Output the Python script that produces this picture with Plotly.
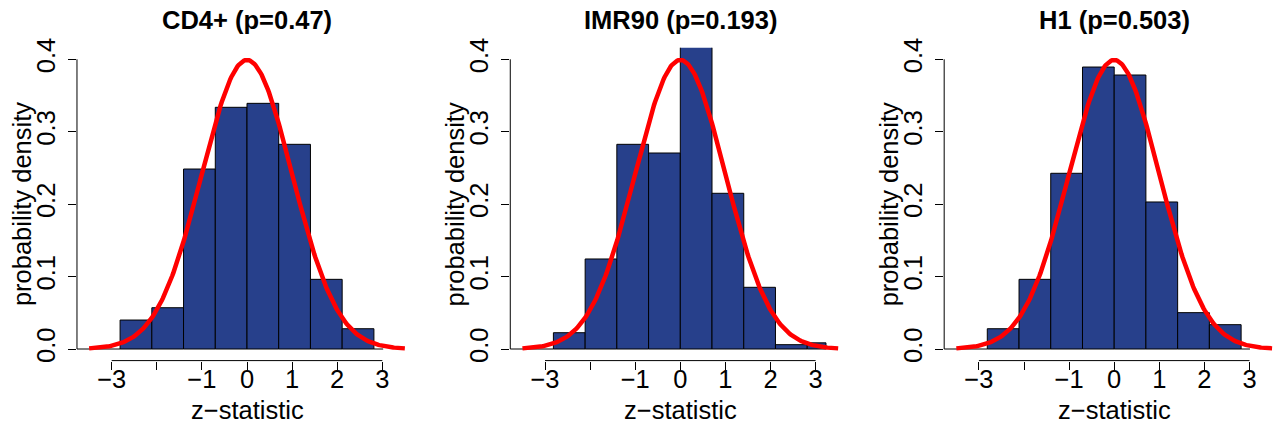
import numpy as np
import plotly.graph_objects as go

# ---- data -------------------------------------------------------------
titles = ["CD4+ (p=0.47)", "IMR90 (p=0.193)", "H1 (p=0.503)"]

# histogram bin edges (z-statistic)
edges_main = [-2.814, -2.11, -1.407, -0.703, 0.0, 0.703, 1.407, 2.11, 2.814]
edges_imr90 = [-2.814, -2.11, -1.407, -0.703, 0.0, 0.703, 1.407, 2.11, 2.814, 3.23]

# probability densities per bin
dens_cd4 = [0.040, 0.057, 0.2485, 0.3337, 0.3392, 0.2826, 0.0962, 0.028]
dens_imr90 = [0.0225, 0.1243, 0.2826, 0.2706, 0.420, 0.215, 0.0852, 0.006, 0.0085]
dens_h1 = [0.028, 0.0962, 0.2426, 0.3893, 0.3783, 0.203, 0.0502, 0.0336]

# empty bins at the tails (drawn as flat outlines)
empty_cd4 = [(-4.2, -2.814), (2.814, 3.02)]
empty_imr90 = [(-4.2, -2.814)]
empty_h1 = [(-4.2, -2.814), (2.814, 3.01)]

x_ticks = [-3, -2, -1, 0, 1, 2, 3]
x_ticktext = ["\u22123", "", "\u22121", "0", "1", "2", "3"]
y_ticks = [0.0, 0.1, 0.2, 0.3, 0.4]
y_ticktext = ["0.0", "0.1", "0.2", "0.3", "0.4"]

panels = [
    (edges_main, dens_cd4, empty_cd4),
    (edges_imr90, dens_imr90, empty_imr90),
    (edges_main, dens_h1, empty_h1),
]

# ---- layout geometry (pixels) -----------------------------------------
W, H = 1274, 426
zero_px = [247.0, 680.3, 1114.2]   # pixel column of z = 0 in each panel
px_per_unit = 45.1
half_range = 3.77
y_top_px, y_bot_px = 47.7, 360.6

FONT = "Liberation Sans, Arial, Helvetica, sans-serif"
FS = 25.5
BAR_FILL = "#27408B"

fig = go.Figure()
annotations = []
shapes = []

for i, (edges, dens, empties) in enumerate(panels):
    n = i + 1
    xa = "x" if n == 1 else f"x{n}"
    ya = "y" if n == 1 else f"y{n}"
    e = np.array(edges)
    centers = (e[:-1] + e[1:]) / 2
    widths = np.diff(e)

    fig.add_trace(go.Bar(
        x=centers, y=dens, width=widths,
        marker=dict(color=BAR_FILL, line=dict(color="black", width=1)),
        xaxis=xa, yaxis=ya, showlegend=False, hoverinfo="skip",
    ))
    for lo, hi in empties:
        fig.add_trace(go.Scatter(
            x=[lo, hi], y=[0, 0], mode="lines",
            line=dict(color="black", width=1),
            xaxis=xa, yaxis=ya, showlegend=False, hoverinfo="skip",
        ))

    # standard normal density overlay
    zz = np.linspace(-3.5, 3.5, 301)
    fig.add_trace(go.Scatter(
        x=zz, y=np.exp(-zz ** 2 / 2) / np.sqrt(2 * np.pi), mode="lines",
        line=dict(color="red", width=4.5),
        xaxis=xa, yaxis=ya, showlegend=False, hoverinfo="skip",
    ))

    left_px = zero_px[i] - half_range * px_per_unit
    right_px = min(zero_px[i] + half_range * px_per_unit, W)
    x_hi = (right_px - zero_px[i]) / px_per_unit

    axis_common = dict(
        showgrid=False, zeroline=False, showline=False,
        ticks="outside", ticklen=8, tickwidth=1, tickcolor="black",
        tickfont=dict(family=FONT, size=FS, color="black"),
        fixedrange=True,
    )
    fig.update_layout(**{
        ("xaxis" if n == 1 else f"xaxis{n}"): dict(
            domain=[left_px / W, right_px / W],
            range=[-half_range, x_hi],
            tickvals=x_ticks, ticktext=x_ticktext,
            ticklabelstandoff=-12,
            anchor=ya, **axis_common,
        ),
        ("yaxis" if n == 1 else f"yaxis{n}"): dict(
            domain=[1 - y_bot_px / H, 1 - y_top_px / H],
            range=[-0.016, 0.416],
            tickvals=y_ticks, ticktext=y_ticktext, tickangle=-90,
            ticklabelstandoff=3,
            anchor=xa, **axis_common,
        ),
    })

    # axis lines span only the first to last tick
    shapes.append(dict(type="line", xref=xa, yref=f"{ya} domain",
                       x0=x_ticks[0], x1=x_ticks[-1], y0=0, y1=0,
                       line=dict(color="black", width=1)))
    shapes.append(dict(type="line", xref=f"{xa} domain", yref=ya,
                       x0=0, x1=0, y0=y_ticks[0], y1=y_ticks[-1],
                       line=dict(color="black", width=1)))

    cx = zero_px[i] / W
    annotations.append(dict(
        text=f"<b>{titles[i]}</b>", x=cx, y=1 - 20 / H,
        xref="paper", yref="paper", xanchor="center", yanchor="middle",
        showarrow=False, font=dict(family=FONT, size=FS, color="black"),
    ))
    annotations.append(dict(
        text="z\u2212statistic", x=cx, y=1 - 410 / H,
        xref="paper", yref="paper", xanchor="center", yanchor="middle",
        showarrow=False, font=dict(family=FONT, size=FS, color="black"),
    ))
    annotations.append(dict(
        text="probability density", x=(left_px - 55) / W,
        y=1 - ((y_top_px + y_bot_px) / 2) / H,
        xref="paper", yref="paper", xanchor="center", yanchor="middle",
        textangle=-90, showarrow=False,
        font=dict(family=FONT, size=FS, color="black"),
    ))

fig.update_layout(
    width=W, height=H,
    margin=dict(l=0, r=0, t=0, b=0, autoexpand=False),
    paper_bgcolor="white", plot_bgcolor="white",
    barmode="overlay",
    annotations=annotations, shapes=shapes,
)

fig.write_html("out.html")
